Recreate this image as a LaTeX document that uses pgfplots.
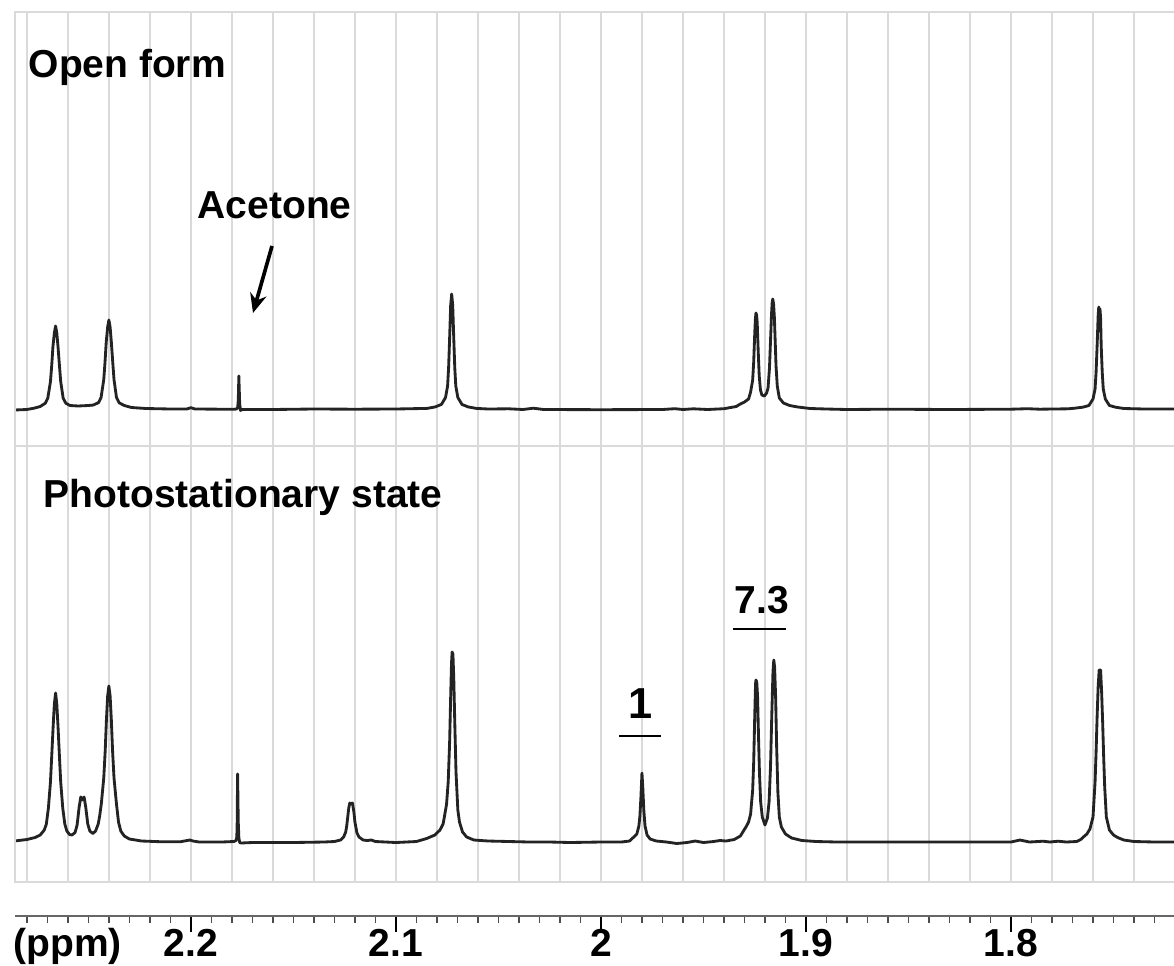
\documentclass[border=0pt]{standalone}
\usepackage{pgfplots}
\pgfplotsset{compat=1.18}
\usepackage{fontspec}
\setmainfont{Liberation Sans}
\usetikzlibrary{arrows.meta}
\definecolor{gridc}{RGB}{218,218,218}
\definecolor{specc}{RGB}{35,35,35}
\newcommand{\lbl}{\fontsize{11.7}{14}\selectfont\bfseries}
\begin{document}
\begin{tikzpicture}
\useasboundingbox (0pt,0pt) rectangle (352.2pt,289.5pt);
\pgfplotsset{
  panel/.style={
    scale only axis, width=347.7pt,
    x dir=reverse, xmin=1.7205, xmax=2.2858, ymin=0,
    xtick={1.74,1.76,1.78,1.80,1.82,1.84,1.86,1.88,1.90,1.92,1.94,1.96,1.98,2.00,2.02,2.04,2.06,2.08,2.10,2.12,2.14,2.16,2.18,2.20,2.22,2.24,2.26,2.28},
    xticklabels={}, ytick=\empty, major tick length=0pt,
    xmajorgrids, major grid style={draw=gridc, line width=0.45pt},
    axis line style={draw=none},
  },
  spec/.style={color=specc, line width=0.85pt, line join=round, mark=none},
}
% upper panel
\begin{axis}[panel, name=top, at={(4.5pt,155.7pt)}, anchor=south west, height=130.2pt, ymax=434]
\addplot[spec] coordinates {
(2.286,36)(2.280,36.5)(2.2765,37.8)(2.2735,39.5)(2.271,42.8)(2.2698,47.8)(2.2685,64.4)(2.2679,80)(2.2673,99)(2.2666,113)(2.266,120)(2.2654,113)(2.2648,99)(2.2641,80)(2.2635,64.4)(2.2623,47.8)(2.261,42.8)(2.259,40.5)(2.255,40)(2.250,40.5)(2.2475,41)(2.245,43.5)(2.2438,48.6)(2.2425,66.4)(2.2419,83.3)(2.2413,103.8)(2.2406,118.9)(2.240,126)(2.2394,118.9)(2.2388,103.8)(2.2381,83.3)(2.2375,66.4)(2.2363,48.6)(2.235,43.2)(2.2325,40.5)(2.229,38.5)(2.222,37.5)(2.210,37)(2.202,37)(2.200,38.3)(2.198,37)(2.185,36.8)(2.1785,36.8)(2.1776,37.2)(2.1772,38.5)(2.1769,45)(2.1767,62)(2.1766,70)(2.1765,62)(2.1762,42)(2.1758,35.5)(2.175,36.5)(2.160,36.5)(2.140,37)(2.120,36.8)(2.100,37)(2.0848,37.6)(2.0808,39.1)(2.0778,41.6)(2.0758,48.5)(2.0748,60)(2.0743,78.4)(2.0738,108.3)(2.0733,140.5)(2.0728,152)(2.0723,140.5)(2.0718,108.3)(2.0713,78.4)(2.0708,60)(2.0698,48.5)(2.0678,41.6)(2.0648,39.1)(2.0608,37.6)(2.055,37)(2.045,37.2)(2.038,36.5)(2.033,37.8)(2.028,36.5)(2.000,36.3)(1.970,36.5)(1.964,37.3)(1.960,36.5)(1.955,37.2)(1.948,36.5)(1.940,37.3)(1.934,39.5)(1.932,42)(1.930,44)(1.928,47)(1.927,54)(1.926,66)(1.9255,84)(1.925,112)(1.9247,126)(1.9244,133)(1.9241,131)(1.9238,124)(1.9233,95)(1.9228,70)(1.9222,56)(1.9215,51)(1.9203,50)(1.9192,53)(1.9185,58)(1.9178,78)(1.9173,105)(1.9168,132)(1.9165,143)(1.9162,147)(1.9158,142)(1.9154,128)(1.9151,110)(1.9146,80)(1.914,60)(1.913,48)(1.911,43)(1.908,40.5)(1.904,39)(1.898,37.5)(1.890,37)(1.880,36.5)(1.860,36.8)(1.830,36.5)(1.800,36.8)(1.792,37.3)(1.786,36.8)(1.772,37.2)(1.769,37.8)(1.765,38.8)(1.762,40.5)(1.760,47)(1.759,57)(1.7585,73.7)(1.758,100)(1.7575,130)(1.7572,139)(1.7569,135)(1.7566,137)(1.7563,128)(1.756,100)(1.7555,73.7)(1.755,57)(1.754,47)(1.752,40.5)(1.749,38.8)(1.745,37.5)(1.735,37)(1.7205,37)
};
\end{axis}
% lower panel
\begin{axis}[panel, name=bot, at={(4.5pt,24.9pt)}, anchor=south west, height=130.8pt, ymax=436]
\addplot[spec] coordinates {
(2.286,41)(2.280,42.5)(2.276,44.5)(2.2735,47)(2.2715,52)(2.2705,58)(2.2695,74)(2.2685,100)(2.2679,125)(2.2672,155)(2.2666,178)(2.266,189)(2.2654,178)(2.2648,155)(2.2641,125)(2.2635,100)(2.2625,74)(2.2615,58)(2.2605,51)(2.2592,47.5)(2.258,47)(2.2565,49.5)(2.2555,57)(2.2545,75)(2.2537,85)(2.2530,82)(2.2521,85)(2.2513,75)(2.2503,58)(2.2493,51)(2.2478,48.5)(2.2465,51)(2.2452,58)(2.2445,66)(2.2437,78)(2.2425,104)(2.2418,131)(2.2412,162)(2.2406,186)(2.240,196)(2.2394,186)(2.2388,162)(2.2382,131)(2.2375,104)(2.2363,78)(2.2353,60)(2.2342,51)(2.2325,46)(2.230,43)(2.224,41)(2.215,40.3)(2.205,40.3)(2.2005,42)(2.199,41)(2.196,40)(2.185,40)(2.179,40.5)(2.1780,41.5)(2.1776,45)(2.1774,62)(2.1773,90)(2.1772,108)(2.1771,90)(2.1769,60)(2.1766,44)(2.1762,39.5)(2.1755,39)(2.170,39.5)(2.150,39.5)(2.135,40)(2.130,40.5)(2.127,42)(2.1255,45)(2.1245,50)(2.124,56)(2.1235,65)(2.123,74)(2.1225,79)(2.1218,78)(2.1212,79)(2.1205,70)(2.120,60)(2.119,49)(2.118,45)(2.116,42)(2.114,41.5)(2.112,42)(2.110,40.5)(2.100,39.5)(2.090,40.5)(2.085,43.5)(2.081,47)(2.0785,52)(2.077,58)(2.0762,67)(2.0753,78)(2.0745,100)(2.0738,140)(2.0733,185)(2.0729,218)(2.0726,230)(2.0722,228)(2.0718,205)(2.0713,160)(2.0707,110)(2.0698,72)(2.069,60)(2.0675,50)(2.0655,45)(2.062,42)(2.055,41)(2.045,40.5)(2.035,40)(2.025,40)(2.015,39.5)(2.000,40)(1.990,40)(1.986,41)(1.9845,44)(1.9825,48)(1.9815,56)(1.981,66)(1.9805,85)(1.980,109)(1.9796,95)(1.9791,72)(1.9785,56)(1.9775,47)(1.976,43)(1.973,41)(1.968,40)(1.963,38.5)(1.958,39.5)(1.954,41)(1.950,39.5)(1.945,40.5)(1.942,41.5)(1.939,41)(1.935,42.5)(1.932,46)(1.9305,51)(1.929,56)(1.928,60)(1.927,68)(1.926,92)(1.9255,120)(1.925,165)(1.9246,198)(1.9244,202)(1.9240,200)(1.9236,185)(1.9232,150)(1.9227,110)(1.9221,80)(1.9213,65)(1.920,57)(1.9188,64)(1.918,80)(1.9173,115)(1.9167,165)(1.9161,210)(1.9157,222)(1.9153,215)(1.9148,185)(1.9143,135)(1.9137,90)(1.913,65)(1.912,55)(1.910,48)(1.907,44)(1.902,41.5)(1.895,40.5)(1.885,40)(1.850,40)(1.820,40)(1.800,40)(1.7956,42)(1.791,40)(1.7844,40.8)(1.781,40)(1.777,40.8)(1.773,40)(1.768,40.5)(1.766,42.5)(1.7647,45)(1.763,48)(1.7615,53)(1.760,65)(1.759,100)(1.7585,130)(1.758,165)(1.7575,195)(1.7570,212)(1.7563,212)(1.7558,190)(1.7553,160)(1.7548,125)(1.7543,95)(1.7535,65)(1.752,52)(1.750,47)(1.748,44.5)(1.745,42)(1.740,40.5)(1.730,40)(1.7205,40)
};
\end{axis}
% frame lines (light grey, no right side)
\draw[gridc, line width=0.45pt] (top.north east) -- (top.north west) -- (bot.south west) -- (bot.south east);
\draw[gridc, line width=0.45pt] (top.south west) -- (top.south east);
% ppm scale
\begin{axis}[scale only axis, width=347.7pt, height=10pt, at={(4.5pt,14.7pt)}, anchor=south west,
  x dir=reverse, xmin=1.7205, xmax=2.2858, ymin=0, ymax=1,
  axis x line=bottom, axis y line=none, axis line style={-, draw=black!60, line width=0.45pt},
  xtick={1.8,1.9,2,2.1,2.2}, xticklabels={1.8,1.9,2,2.1,2.2},
  minor xtick={1.73,1.74,1.75,1.76,1.77,1.78,1.79,1.81,1.82,1.83,1.84,1.85,1.86,1.87,1.88,1.89,1.91,1.92,1.93,1.94,1.95,1.96,1.97,1.98,1.99,2.01,2.02,2.03,2.04,2.05,2.06,2.07,2.08,2.09,2.11,2.12,2.13,2.14,2.15,2.16,2.17,2.18,2.19,2.21,2.22,2.23,2.24,2.25,2.26,2.27,2.28},
  tick align=outside, major tick length=4.8pt, minor tick length=2.1pt,
  major tick style={draw=black, line width=0.6pt}, minor tick style={draw=black!70, line width=0.4pt},
  /pgf/number format/assume math mode=true,
  xticklabel style={font=\lbl, anchor=base, inner sep=0pt, yshift=-7.2pt},
  typeset ticklabels with strut,
]
\addplot[draw=none] coordinates {(2.0,0)};
\end{axis}
% texts
\node[anchor=base west, inner sep=0pt, font=\lbl] at (8.4pt,266.1pt) {Open form};
\node[anchor=base west, inner sep=0pt, font=\lbl] at (59.1pt,223.8pt) {Acetone};
\draw[line width=1.1pt, -{Stealth[length=5.8pt, width=5pt]}] (81.6pt,215.7pt) -- (75.9pt,195.6pt);
\node[anchor=base west, inner sep=0pt, font=\lbl] at (12.9pt,137.4pt) {Photostationary state};
\node[anchor=base, inner sep=0pt, font=\lbl] at (228.6pt,105.6pt) {7.3};
\draw[line width=0.6pt] (219.9pt,100.8pt) -- (235.8pt,100.8pt);
\node[anchor=base, inner sep=0pt, font=\fontsize{13}{15}\selectfont\bfseries] at (192.3pt,74.1pt) {1};
\draw[line width=0.6pt] (185.7pt,68.7pt) -- (198.3pt,68.7pt);
\node[anchor=base west, inner sep=0pt, font=\lbl] at (3.9pt,2.7pt) {(ppm)};
\end{tikzpicture}
\end{document}
